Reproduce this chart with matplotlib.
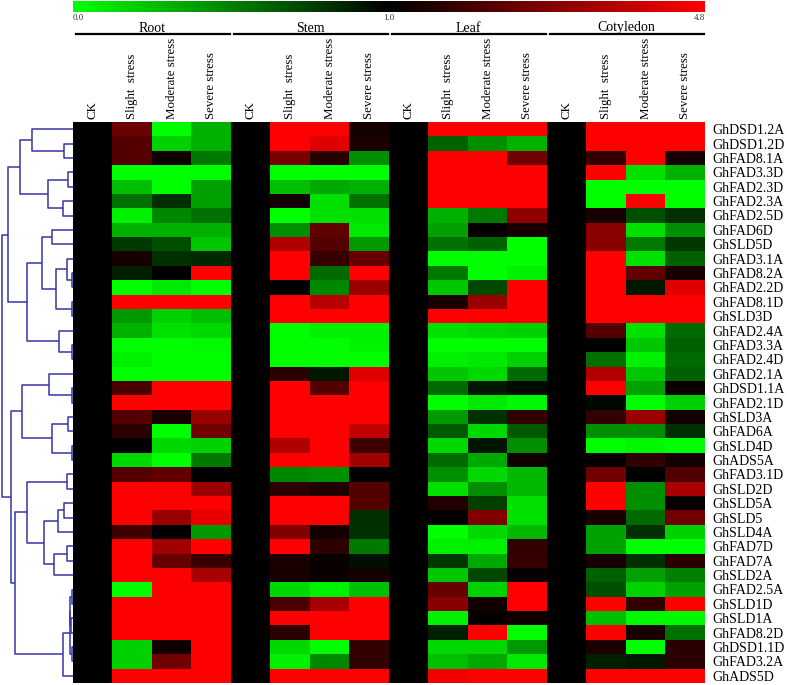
import numpy as np
import matplotlib
matplotlib.use('Agg')
import matplotlib.pyplot as plt
import matplotlib.transforms as mtransforms
from matplotlib.colors import LinearSegmentedColormap, TwoSlopeNorm

plt.rcParams['font.family'] = ['Liberation Serif', 'DejaVu Serif']

tissues = ['Root', 'Stem', 'Leaf', 'Cotyledon']
treatments = ['CK', 'Slight  stress', 'Moderate stress', 'Severe stress']

genes = ['GhDSD1.2A', 'GhDSD1.2D', 'GhFAD8.1A', 'GhFAD3.3D', 'GhFAD2.3D', 'GhFAD2.3A',
         'GhFAD2.5D', 'GhFAD6D', 'GhSLD5D', 'GhFAD3.1A', 'GhFAD8.2A', 'GhFAD2.2D',
         'GhFAD8.1D', 'GhSLD3D', 'GhFAD2.4A', 'GhFAD3.3A', 'GhFAD2.4D', 'GhFAD2.1A',
         'GhDSD1.1A', 'GhFAD2.1D', 'GhSLD3A', 'GhFAD6A', 'GhSLD4D', 'GhADS5A',
         'GhFAD3.1D', 'GhSLD2D', 'GhSLD5A', 'GhSLD5', 'GhSLD4A', 'GhFAD7D',
         'GhFAD7A', 'GhSLD2A', 'GhFAD2.5A', 'GhSLD1D', 'GhSLD1A', 'GhFAD8.2D',
         'GhDSD1.1D', 'GhFAD3.2A', 'GhADS5D']

# relative expression (CK = 1), columns: slight, moderate, severe
ck_value = 1.0

root = [[2.6, 0.0, 0.31], [2.27, 0.18, 0.31], [2.27, 1.24, 0.53], [0.0, 0.0, 0.0],
        [0.25, 0.0, 0.37], [0.56, 0.81, 0.37], [0.06, 0.47, 0.56], [0.31, 0.31, 0.31],
        [0.78, 0.69, 0.22], [1.33, 0.81, 0.84], [0.87, 1.0, 4.8], [0.0, 0.09, 0.0],
        [4.8, 4.8, 4.8], [0.4, 0.18, 0.25], [0.31, 0.12, 0.15], [0.0, 0.0, 0.02],
        [0.06, 0.0, 0.0], [0.0, 0.0, 0.0], [2.1, 4.8, 4.8], [4.8, 4.8, 4.8],
        [2.27, 1.4, 3.28], [1.63, 0.0, 2.67], [1.0, 0.15, 0.18], [0.15, 0.0, 0.53],
        [2.27, 2.43, 1.0], [4.8, 4.8, 3.3], [4.8, 4.8, 4.8], [4.8, 3.28, 4.45],
        [1.95, 1.0, 0.4], [4.8, 3.38, 4.8], [4.8, 2.52, 1.86], [4.8, 4.8, 3.5],
        [0.0, 4.8, 4.8], [4.8, 4.8, 4.8], [4.8, 4.8, 4.8], [4.8, 4.8, 4.8],
        [0.18, 1.24, 4.8], [0.18, 2.67, 4.8], [4.8, 4.8, 4.8]]

stem = [[4.8, 4.8, 1.3], [4.8, 4.35, 1.39], [2.79, 1.6, 0.44], [0.0, 0.0, 0.0],
        [0.25, 0.34, 0.31], [1.31, 0.12, 0.56], [0.0, 0.12, 0.12], [0.44, 2.43, 0.09],
        [3.62, 2.27, 0.4], [4.8, 1.83, 2.52], [4.8, 0.59, 4.8], [1.0, 0.47, 3.27],
        [4.8, 3.74, 4.8], [4.8, 4.8, 4.8], [0.0, 0.06, 0.06], [0.0, 0.0, 0.05],
        [0.0, 0.0, 0.0], [1.68, 0.9, 4.34], [4.8, 2.27, 4.8], [4.8, 4.8, 4.8],
        [4.8, 4.8, 4.8], [4.8, 4.8, 3.86], [3.62, 4.8, 1.9], [4.8, 4.8, 3.38],
        [0.47, 0.44, 1.0], [1.68, 1.48, 2.27], [4.8, 4.8, 2.27], [4.8, 4.8, 0.81],
        [2.9, 1.31, 0.81], [4.8, 1.68, 0.53], [1.39, 1.12, 0.93], [1.36, 1.15, 1.31],
        [0.15, 0.06, 0.25], [2.1, 3.5, 4.8], [4.8, 4.8, 4.8], [1.68, 4.8, 4.8],
        [0.15, 0.0, 1.76], [0.06, 0.47, 1.76], [4.8, 4.8, 4.8]]

leaf = [[4.8, 4.8, 4.8], [0.62, 0.44, 0.31], [4.8, 4.8, 2.67], [4.8, 4.8, 4.8],
        [4.8, 4.8, 4.8], [4.8, 4.8, 4.8], [0.31, 0.53, 3.15], [0.37, 1.07, 1.36],
        [0.56, 0.62, 0.0], [0.0, 0.0, 0.0], [0.53, 0.0, 0.06], [0.22, 0.72, 4.8],
        [1.36, 3.3, 4.8], [4.8, 4.8, 4.8], [0.12, 0.15, 0.18], [0.0, 0.0, 0.0],
        [0.06, 0.09, 0.18], [0.22, 0.15, 0.59], [0.59, 0.9, 0.96], [0.0, 0.09, 0.03],
        [0.4, 0.81, 1.72], [0.65, 0.15, 0.65], [0.15, 0.92, 0.44], [0.59, 0.34, 1.24],
        [0.44, 0.15, 0.28], [0.12, 0.44, 0.28], [1.48, 0.75, 0.12], [1.07, 2.9, 0.12],
        [0.0, 0.15, 0.28], [0.06, 0.06, 1.72], [0.78, 0.34, 1.83], [0.22, 0.72, 1.12],
        [2.52, 0.18, 4.8], [3.03, 1.24, 4.8], [0.06, 1.07, 1.24], [0.87, 4.8, 0.0],
        [0.15, 0.15, 0.4], [0.25, 0.34, 0.09], [4.58, 4.8, 4.8]]

cotyledon = [[4.8, 4.8, 4.8], [4.8, 4.8, 4.8], [1.76, 4.8, 1.31], [4.8, 0.12, 0.31],
             [0.0, 0.0, 0.0], [0.0, 4.8, 0.0], [1.33, 0.69, 0.81], [3.06, 0.12, 0.44],
             [3.03, 0.53, 0.78], [4.8, 0.12, 0.62], [4.8, 2.43, 1.36], [4.8, 0.9, 4.34],
             [4.8, 4.8, 4.8], [4.8, 4.8, 4.8], [2.27, 0.12, 0.59], [1.0, 0.22, 0.62],
             [0.56, 0.06, 0.59], [3.62, 0.22, 0.62], [4.8, 0.37, 1.15], [0.97, 0.0, 0.18],
             [1.76, 3.3, 1.27], [0.44, 0.44, 0.81], [0.0, 0.03, 0.0], [1.07, 1.72, 1.31],
             [2.67, 1.0, 2.19], [4.8, 0.44, 3.5], [4.8, 0.44, 1.12], [1.36, 0.59, 2.67],
             [0.37, 0.81, 0.18], [0.37, 0.0, 0.0], [1.36, 0.81, 1.63], [0.62, 0.37, 0.5],
             [0.69, 0.18, 0.37], [4.8, 1.76, 4.8], [0.25, 0.03, 0.03], [4.8, 1.33, 0.56],
             [1.39, 0.0, 1.68], [0.87, 0.9, 1.68], [4.8, 4.8, 4.8]]

# row dendrogram: (child a, child b, merge distance); leaves 0..38, new nodes 39..
merges = [(1, 2, 8.7), (0, 39, 40.7), (3, 4, 4.7), (5, 6, 9.7), (41, 42, 24.7),
          (40, 43, 53.0), (7, 8, 20.7), (10, 11, 1.0), (9, 46, 6.3), (12, 13, 1.0),
          (47, 48, 17.0), (45, 49, 30.7), (15, 16, 1.3), (14, 51, 13.7), (50, 52, 46.3),
          (44, 53, 64.7), (18, 19, 1.0), (17, 55, 24.0), (20, 21, 5.3), (22, 23, 1.3),
          (57, 58, 20.7), (56, 59, 50.7), (24, 25, 6.3), (26, 27, 8.7), (62, 28, 14.7),
          (29, 30, 6.3), (64, 31, 18.7), (63, 65, 28.7), (61, 66, 45.7), (32, 33, 0.7),
          (34, 35, 2.0), (68, 69, 3.0), (36, 37, 0.7), (70, 71, 3.3), (72, 38, 9.7),
          (67, 73, 58.3), (60, 74, 62.3), (54, 75, 71.3)]

blocks = []
for tis in [root, stem, leaf, cotyledon]:
    arr = np.array(tis)
    blocks.append(np.full((len(genes), 1), ck_value))
    blocks.append(arr)
mat = np.hstack(blocks)

cmap = LinearSegmentedColormap.from_list('gkr', ['#00ff00', '#000000', '#ff0000'])
norm = TwoSlopeNorm(vmin=0.0, vcenter=1.0, vmax=4.8)

W, H = 787, 685
fig = plt.figure(figsize=(W / 100, H / 100), dpi=100)

hx0, hx1, hy0, hy1 = 73, 705, 122, 683
ax = fig.add_axes([hx0 / W, 1 - hy1 / H, (hx1 - hx0) / W, (hy1 - hy0) / H])
im = ax.imshow(mat, cmap=cmap, norm=norm, aspect='auto', interpolation='nearest')
for s in ax.spines.values():
    s.set_visible(False)

ax.xaxis.tick_top()
ax.set_xticks(range(mat.shape[1]))
ax.set_xticklabels(treatments * len(tissues), rotation=90, fontsize=9.3)
ax.tick_params(axis='x', length=0, pad=2.5)
ax.yaxis.tick_right()
ax.set_yticks(range(len(genes)))
ax.set_yticklabels(genes, fontsize=10)
ax.tick_params(axis='y', length=0, pad=5)

# tissue headers with lines
trans = mtransforms.blended_transform_factory(ax.transData, ax.transAxes)
ncond = len(treatments)
for g, t in enumerate(tissues):
    ax.text(g * ncond + (ncond - 1) / 2, 1 + (hy0 - 31.5) / (hy1 - hy0), t,
            transform=trans, ha='center', va='baseline', fontsize=10)
    ax.plot([g * ncond - 0.42, g * ncond + ncond - 0.525],
            [1 + (hy0 - 34.3) / (hy1 - hy0)] * 2,
            transform=trans, color='black', lw=1.6, clip_on=False)

# colour bar
cax = fig.add_axes([hx0 / W, 1 - 11.7 / H, (hx1 - hx0) / W, 10.5 / H])
cbar = fig.colorbar(im, cax=cax, orientation='horizontal')
cbar.outline.set_visible(False)
cbar.set_ticks([0.0, 1.0, 4.8], labels=['0.0', '1.0', '4.8'])
cax.tick_params(length=0, labelsize=6.5, pad=1.5, labelcolor='#333333')
for lbl, ha in zip(cax.get_xticklabels(), ['left', 'center', 'right']):
    lbl.set_ha(ha)

# dendrogram
dax = fig.add_axes([0, 1 - hy1 / H, hx0 / W, (hy1 - hy0) / H])
pos = {i: float(i) for i in range(len(genes))}
hgt = {i: 0.0 for i in range(len(genes))}
for k, (a, b, d) in enumerate(merges):
    node = len(genes) + k
    dax.plot([hgt[a], d, d, hgt[b]], [pos[a], pos[a], pos[b], pos[b]],
             color='#3535a8', lw=1.1, solid_capstyle='butt')
    pos[node] = (pos[a] + pos[b]) / 2
    hgt[node] = d
dax.set_xlim(73, 0)
dax.set_ylim(len(genes) - 0.5, -0.5)
dax.axis('off')

fig.savefig('out.png', dpi=100)
